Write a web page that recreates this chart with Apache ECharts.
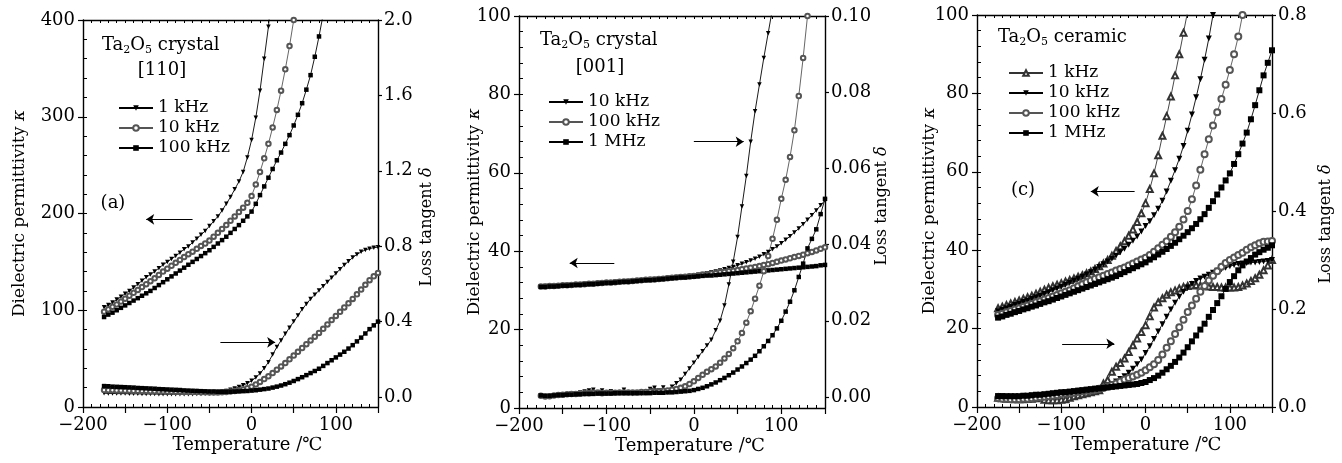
<!DOCTYPE html>
<html><head><meta charset="utf-8">
<script src="https://cdn.jsdelivr.net/npm/echarts@6/dist/echarts.min.js"></script>
<style>html,body{margin:0;padding:0;background:#fff}#c{width:1342px;height:463px}</style>
</head><body><div id="c"></div>
<script>
// Temperature sampling (°C)
const temps = [-175,-170,-165,-160,-155,-150,-145,-140,-135,-130,-125,-120,-115,-110,-105,-100,-95,-90,-85,-80,-75,-70,-65,-60,-55,-50,-45,-40,-35,-30,-25,-20,-15,-10,-5,0,5,10,15,20,25,30,35,40,45,50,55,60,65,70,75,80,85,90,95,100,105,110,115,120,125,130,135,140,145,150];

// Panel (a): Ta2O5 crystal [110]
const aK1 = [103,105.5,108,111,114,117,120,123.5,127,130.5,134,137,140,143.5,147,150,153,156,159.5,163,166,170,174,178,182,187,192,197,203,210,217,225,233,243,258,276,299,327,360,393,440];
const aK2 = [98.5,101,103.5,106,109,112,115,118,121,124,127,130,133,136.5,140,143,146,149,152,155,158,160.5,163.5,166.5,169,172,176,180,184,188,192.5,197,201.5,206,211,218,230,243,257,272,289,307,327,349,373,400,430];
const aK3 = [93,95.5,97.5,100,102.5,105,107.5,110,112.5,115,117.5,120,123,126,129,132,135,138,141,144,147,150,153,156,159,162,165.5,169,172.5,176,180,184,188,192.5,197,202,210,219,228,237,246,255,263,272,281,291,302,314,328,343,362,383,406];
const aD1 = [0.020,0.019,0.019,0.018,0.018,0.018,0.017,0.017,0.017,0.016,0.016,0.016,0.016,0.015,0.015,0.015,0.015,0.015,0.015,0.015,0.015,0.015,0.016,0.016,0.017,0.018,0.020,0.023,0.027,0.032,0.038,0.045,0.053,0.062,0.073,0.086,0.103,0.125,0.152,0.185,0.225,0.265,0.300,0.335,0.368,0.400,0.432,0.465,0.493,0.520,0.543,0.565,0.588,0.610,0.633,0.655,0.678,0.700,0.720,0.740,0.756,0.770,0.780,0.787,0.792,0.795];
const aD2 = [0.037,0.036,0.036,0.035,0.035,0.034,0.034,0.033,0.033,0.032,0.032,0.031,0.031,0.030,0.030,0.029,0.029,0.028,0.028,0.027,0.027,0.026,0.026,0.025,0.025,0.024,0.024,0.024,0.025,0.027,0.029,0.032,0.036,0.040,0.047,0.055,0.067,0.080,0.095,0.110,0.127,0.145,0.162,0.180,0.200,0.220,0.240,0.260,0.280,0.300,0.320,0.340,0.362,0.385,0.408,0.430,0.452,0.475,0.497,0.520,0.545,0.570,0.595,0.620,0.640,0.658];
const aD3 = [0.058,0.057,0.055,0.054,0.053,0.052,0.051,0.050,0.048,0.047,0.046,0.045,0.044,0.042,0.041,0.040,0.039,0.038,0.037,0.035,0.034,0.033,0.032,0.031,0.030,0.029,0.029,0.028,0.028,0.028,0.028,0.029,0.030,0.031,0.032,0.034,0.036,0.039,0.042,0.045,0.050,0.055,0.061,0.068,0.076,0.085,0.095,0.105,0.116,0.127,0.138,0.150,0.165,0.180,0.195,0.210,0.225,0.240,0.257,0.275,0.295,0.315,0.337,0.360,0.380,0.400];

// Panel (b): Ta2O5 crystal [001]
const bK1 = [31.0,31.1,31.1,31.2,31.2,31.3,31.4,31.4,31.5,31.6,31.7,31.7,31.8,31.9,31.9,32.0,32.1,32.2,32.2,32.3,32.4,32.5,32.6,32.6,32.7,32.8,32.9,33.0,33.1,33.2,33.3,33.4,33.5,33.6,33.7,33.8,34.0,34.2,34.4,34.6,34.8,35.1,35.4,35.7,36.0,36.4,36.8,37.2,37.6,38.1,38.6,39.2,39.8,40.5,41.2,42.0,42.9,43.8,44.8,45.8,46.9,48.0,49.2,50.4,51.7,53.0];
const bK2 = [31.0,31.0,31.1,31.1,31.2,31.3,31.3,31.4,31.5,31.5,31.6,31.7,31.7,31.8,31.9,32.0,32.0,32.1,32.2,32.3,32.3,32.4,32.5,32.6,32.7,32.8,32.8,32.9,33.0,33.1,33.2,33.3,33.4,33.5,33.6,33.7,33.8,34.0,34.1,34.3,34.4,34.6,34.7,34.9,35.0,35.2,35.4,35.6,35.8,36.0,36.2,36.5,36.7,37.0,37.3,37.6,37.9,38.2,38.5,38.8,39.1,39.5,39.8,40.2,40.6,41.0];
const bK3 = [30.9,30.9,31.0,31.0,31.1,31.2,31.2,31.3,31.4,31.4,31.5,31.6,31.6,31.7,31.8,31.9,31.9,32.0,32.1,32.2,32.2,32.3,32.4,32.5,32.6,32.6,32.7,32.8,32.9,33.0,33.1,33.2,33.3,33.3,33.4,33.5,33.6,33.7,33.8,33.8,33.9,34.0,34.1,34.2,34.3,34.4,34.5,34.6,34.7,34.8,34.9,35.0,35.1,35.2,35.3,35.4,35.5,35.6,35.7,35.8,35.9,36.0,36.1,36.2,36.4,36.5];
const bD1 = [0.0003,0.0001,0.0002,0.0004,0.0005,0.0006,0.0007,0.0009,0.0010,0.0012,0.0014,0.0017,0.0019,0.0013,0.0017,0.0011,0.0015,0.0010,0.0012,0.0019,0.0010,0.0008,0.0011,0.0009,0.0013,0.0021,0.0024,0.0017,0.0025,0.0012,0.0027,0.0036,0.0045,0.0060,0.0075,0.0090,0.0105,0.0120,0.0135,0.0150,0.0175,0.0200,0.0240,0.0295,0.0355,0.0420,0.0500,0.0580,0.0670,0.0750,0.0820,0.0890,0.0955,0.1020];
const bD2 = [0.0003,0.0001,0.0002,0.0004,0.0005,0.0006,0.0007,0.0008,0.0008,0.0009,0.0010,0.0010,0.0011,0.0011,0.0010,0.0011,0.0011,0.0011,0.0012,0.0012,0.0012,0.0012,0.0012,0.0013,0.0013,0.0014,0.0014,0.0015,0.0016,0.0017,0.0019,0.0021,0.0024,0.0028,0.0034,0.0041,0.0050,0.0058,0.0066,0.0073,0.0080,0.0090,0.0101,0.0113,0.0128,0.0146,0.0168,0.0195,0.0225,0.0258,0.0292,0.0330,0.0370,0.0415,0.0465,0.0520,0.0570,0.0630,0.0700,0.0790,0.0890,0.1000,0.1110];
const bD3 = [0.0004,0.0003,0.0003,0.0004,0.0005,0.0005,0.0006,0.0006,0.0007,0.0007,0.0008,0.0008,0.0008,0.0009,0.0009,0.0009,0.0009,0.0010,0.0010,0.0010,0.0010,0.0010,0.0010,0.0010,0.0010,0.0010,0.0011,0.0011,0.0011,0.0012,0.0012,0.0013,0.0014,0.0015,0.0016,0.0018,0.0021,0.0024,0.0028,0.0033,0.0038,0.0044,0.0050,0.0057,0.0064,0.0072,0.0080,0.0089,0.0098,0.0108,0.0120,0.0133,0.0147,0.0162,0.0180,0.0200,0.0224,0.0250,0.0280,0.0315,0.0350,0.0390,0.0415,0.0440,0.0480,0.0520];

// Panel (c): Ta2O5 ceramic
const cK1 = [25.2,25.6,26.0,26.4,26.8,27.2,27.6,28.0,28.4,28.9,29.4,29.9,30.4,30.8,31.2,31.6,32.0,32.4,32.8,33.2,33.6,34.1,34.6,35.2,35.9,36.6,37.5,38.6,39.8,41.0,42.3,43.7,45.3,47.2,49.4,52.0,55.6,59.6,64.2,69.2,74.2,79.2,84.6,90.0,95.5,101.0];
const cK2 = [24.4,24.8,25.2,25.6,26.0,26.4,26.8,27.2,27.6,28.0,28.4,28.8,29.3,29.8,30.2,30.7,31.2,31.7,32.2,32.7,33.2,33.8,34.4,35.0,35.7,36.4,37.1,37.8,38.6,39.5,40.4,41.4,42.4,43.5,44.8,46.2,47.4,48.9,50.6,52.6,55.0,57.7,60.4,63.3,66.6,70.5,74.6,79.0,83.6,88.6,94.0,100.0,106.5];
const cK3 = [23.5,23.8,24.2,24.5,24.9,25.2,25.6,25.9,26.3,26.7,27.0,27.4,27.8,28.2,28.6,29.0,29.4,29.8,30.3,30.8,31.3,31.8,32.3,32.7,33.1,33.5,33.9,34.3,34.8,35.2,35.6,36.1,36.6,37.1,37.6,38.1,38.8,39.6,40.5,41.4,42.3,43.4,44.6,46.0,47.8,50.0,53.0,56.5,60.5,64.5,68.3,71.8,75.2,78.6,82.2,86.0,90.0,94.5,100.0,106.0];
const cK4 = [22.8,23.1,23.5,23.8,24.2,24.5,24.9,25.2,25.6,25.9,26.3,26.7,27.0,27.4,27.8,28.2,28.6,29.0,29.4,29.8,30.2,30.6,31.0,31.4,31.8,32.2,32.6,33.0,33.4,33.9,34.4,34.9,35.4,35.9,36.4,36.9,37.6,38.2,38.9,39.6,40.3,41.1,41.9,42.8,43.7,44.6,45.6,46.7,47.9,49.2,50.8,52.5,54.2,56.0,57.8,59.6,62.0,64.5,67.2,70.0,73.4,77.0,80.8,84.6,87.8,91.0];
const cD1 = [0.019,0.018,0.017,0.017,0.016,0.016,0.016,0.017,0.017,0.018,0.019,0.015,0.014,0.014,0.014,0.015,0.016,0.019,0.022,0.024,0.026,0.028,0.030,0.032,0.034,0.048,0.055,0.072,0.082,0.090,0.099,0.112,0.126,0.140,0.153,0.167,0.185,0.203,0.214,0.222,0.229,0.234,0.238,0.242,0.245,0.247,0.248,0.249,0.248,0.247,0.246,0.245,0.245,0.244,0.244,0.244,0.244,0.245,0.248,0.252,0.257,0.263,0.270,0.279,0.289,0.300];
const cD2 = [0.022,0.022,0.021,0.021,0.021,0.021,0.022,0.022,0.023,0.023,0.024,0.025,0.026,0.027,0.028,0.029,0.030,0.031,0.032,0.033,0.034,0.035,0.036,0.037,0.038,0.040,0.043,0.047,0.052,0.057,0.063,0.070,0.078,0.087,0.097,0.110,0.124,0.139,0.154,0.169,0.184,0.199,0.213,0.225,0.235,0.244,0.251,0.257,0.262,0.266,0.270,0.274,0.278,0.281,0.284,0.287,0.290,0.292,0.293,0.294,0.295,0.295,0.296,0.297,0.298,0.300];
const cD3 = [0.018,0.017,0.017,0.016,0.016,0.016,0.017,0.017,0.018,0.019,0.020,0.021,0.022,0.023,0.024,0.026,0.027,0.028,0.029,0.031,0.032,0.033,0.034,0.035,0.037,0.039,0.042,0.045,0.048,0.052,0.056,0.059,0.062,0.066,0.070,0.075,0.081,0.087,0.096,0.107,0.121,0.134,0.149,0.163,0.178,0.194,0.207,0.221,0.235,0.247,0.258,0.268,0.277,0.286,0.294,0.300,0.305,0.310,0.315,0.321,0.326,0.330,0.334,0.337,0.338,0.339];
const cD4 = [0.022,0.022,0.022,0.022,0.022,0.022,0.023,0.023,0.024,0.025,0.025,0.026,0.027,0.028,0.029,0.030,0.030,0.031,0.032,0.033,0.034,0.035,0.036,0.037,0.038,0.039,0.040,0.041,0.042,0.043,0.044,0.045,0.046,0.047,0.049,0.051,0.055,0.059,0.064,0.070,0.077,0.084,0.092,0.101,0.111,0.122,0.134,0.146,0.158,0.170,0.184,0.198,0.212,0.226,0.241,0.255,0.267,0.279,0.289,0.297,0.304,0.311,0.316,0.321,0.325,0.330];

// Tick labels
const xLabels = [-200,-100,0,100];
const aRightTicks = [0,0.4,0.8,1.2,1.6,2.0];
const bRightTicks = [0,0.02,0.04,0.06,0.08,0.10];
const cRightTicks = [0,0.2,0.4,0.6,0.8];

const FONT = '"DejaVu Serif","Liberation Serif",serif';
const BLACK = '#000';
const chart = echarts.init(document.getElementById('c'), null, {renderer:'canvas'});

const grids = [
  {left:83, top:20, width:295, height:387},
  {left:519, top:16, width:306, height:392},
  {left:977, top:15, width:295, height:392}
];
const panels = [
  {kMax:400,kInt:100,kMinor:20,dMin:-0.053,dMax:2.0,dTicks:aRightTicks,dDig:1,lGap:55,rGap:41,rPad:[0,27,0,0],xPad:[0,0,0,34]},
  {kMax:100,kInt:20,kMinor:4,dMin:-0.0029,dMax:0.10,dTicks:bRightTicks,dDig:2,lGap:36,rGap:49,rPad:[0,0,0,12],xPad:[0,0,0,36]},
  {kMax:100,kInt:20,kMinor:4,dMin:0,dMax:0.8,dTicks:cRightTicks,dDig:1,lGap:39,rGap:46,rPad:[0,26,0,0],xPad:[0,0,0,44]}
];
const txt = {fontFamily:FONT,fontSize:17,color:BLACK};
const rtxt = {fontFamily:FONT,fontSize:16,color:BLACK};
const tick = {fontFamily:FONT,fontSize:18,color:BLACK};
const xAxes = [], yAxes = [];
panels.forEach((p,g)=>{
  xAxes.push({gridIndex:g,type:'value',position:'bottom',min:-200,max:150,interval:50,
    axisLine:{onZero:false,lineStyle:{color:BLACK,width:1.4}},
    axisTick:{inside:false,length:6,lineStyle:{color:BLACK,width:1.2}},
    axisLabel:Object.assign({margin:9,formatter:v=>xLabels.indexOf(v)>=0?String(v).replace('-','\u2212'):''},tick),
    splitLine:{show:false},
    name:'Temperature /\u2103',nameLocation:'middle',nameGap:29,nameMoveOverlap:false,
    nameTextStyle:Object.assign({padding:p.xPad},tick)});
  xAxes.push({gridIndex:g,type:'value',position:'bottom',min:-200,max:150,interval:10,
    axisLine:{show:false,onZero:false},axisTick:{inside:true,length:3,lineStyle:{color:BLACK,width:1}},
    axisLabel:{show:false},splitLine:{show:false}});
  xAxes.push({gridIndex:g,type:'value',position:'top',min:-200,max:150,interval:10,
    axisLine:{onZero:false,lineStyle:{color:BLACK,width:1.4}},axisTick:{inside:true,length:3,lineStyle:{color:BLACK,width:1}},
    axisLabel:{show:false},splitLine:{show:false}});
  yAxes.push({gridIndex:g,type:'value',position:'left',min:0,max:p.kMax,interval:p.kInt,
    axisLine:{show:true,onZero:false,lineStyle:{color:BLACK,width:1.4}},
    axisTick:{inside:false,length:5,lineStyle:{color:BLACK,width:1.2}},
    axisLabel:Object.assign({margin:8},tick),splitLine:{show:false},
    name:'{n|Dielectric permittivity }{k|\u03ba}',nameLocation:'middle',nameRotate:90,nameGap:p.lGap,nameMoveOverlap:false,
    nameTextStyle:{rich:{n:txt,k:Object.assign({fontStyle:'italic'},txt)}}});
  yAxes.push({gridIndex:g,type:'value',position:'left',min:0,max:p.kMax,interval:p.kMinor,
    axisLine:{show:false,onZero:false},axisTick:{inside:true,length:4,lineStyle:{color:BLACK,width:1}},
    axisLabel:{show:false},splitLine:{show:false}});
  yAxes.push({gridIndex:g,type:'value',position:'right',min:p.dMin,max:p.dMax,
    axisLine:{show:true,onZero:false,lineStyle:{color:BLACK,width:1.4}},
    axisTick:{inside:false,length:4,customValues:p.dTicks,lineStyle:{color:BLACK,width:1.2}},
    axisLabel:Object.assign({margin:6,customValues:p.dTicks,formatter:v=>v.toFixed(p.dDig)},tick),
    splitLine:{show:false},
    name:'{n|Loss tangent }{k|\u03b4}',nameLocation:'middle',nameRotate:90,nameGap:p.rGap,nameMoveOverlap:false,
    nameTextStyle:{padding:p.rPad,rich:{n:rtxt,k:Object.assign({fontStyle:'italic'},rtxt)}}});
});

const SYM = {
  dtri:{symbol:'triangle',symbolRotate:180,color:'#000'},
  utri:{symbol:'emptyTriangle',symbolRotate:0,color:'#333'},
  circ:{symbol:'emptyCircle',symbolRotate:0,color:'#555'},
  sq:{symbol:'rect',symbolRotate:0,color:'#000'}
};
const symSize = [4.5,4.5,6];
function mk(name,g,right,vals,sym,extra){
  const s = SYM[sym];
  return Object.assign({type:'line',name,xAxisIndex:3*g,yAxisIndex:3*g+(right?2:0),
    data:vals.map((v,i)=>[temps[i],v]),symbol:s.symbol,symbolRotate:s.symbolRotate,symbolSize:symSize[g],
    lineStyle:{width:0.9,color:s.color},itemStyle:{color:s.color,borderWidth:1},
    emphasis:{disabled:true},animation:false,clip:true},extra||{});
}
function arrow(x1,y1,x2,y2){
  return {markLine:{silent:true,animation:false,symbol:['none','arrow'],symbolSize:8,
    label:{show:false},lineStyle:{color:BLACK,width:1,type:'solid'},emphasis:{disabled:true},
    data:[[{coord:[x1,y1]},{coord:[x2,y2]}]]}};
}
const series = [
  mk('a1|1 kHz',0,false,aK1,'dtri',arrow(-70,194,-125,194)),
  mk('a2|10 kHz',0,false,aK2,'circ'),
  mk('a3|100 kHz',0,false,aK3,'sq'),
  mk('a1d|1 kHz',0,true,aD1,'dtri',arrow(-37,0.29,28,0.29)),
  mk('a2d|10 kHz',0,true,aD2,'circ'),
  mk('a3d|100 kHz',0,true,aD3,'sq'),
  mk('b1|10 kHz',1,false,bK1,'dtri',arrow(-91,37,-142,37)),
  mk('b2|100 kHz',1,false,bK2,'circ'),
  mk('b3|1 MHz',1,false,bK3,'sq'),
  mk('b1d|10 kHz',1,true,bD1,'dtri',arrow(0,0.067,57,0.067)),
  mk('b2d|100 kHz',1,true,bD2,'circ'),
  mk('b3d|1 MHz',1,true,bD3,'sq'),
  mk('c1|1 kHz',2,false,cK1,'utri',arrow(-13,55,-65,55)),
  mk('c2|10 kHz',2,false,cK2,'dtri'),
  mk('c3|100 kHz',2,false,cK3,'circ'),
  mk('c4|1 MHz',2,false,cK4,'sq'),
  mk('c1d|1 kHz',2,true,cD1,'utri',arrow(-99,0.129,-37,0.129)),
  mk('c2d|10 kHz',2,true,cD2,'dtri'),
  mk('c3d|100 kHz',2,true,cD3,'circ'),
  mk('c4d|1 MHz',2,true,cD4,'sq')
];
function leg(names,left,top){
  return {data:names,left,top,orient:'vertical',itemGap:0,itemWidth:34,itemHeight:7,selectedMode:false,
    formatter:n=>n.split('|')[1],textStyle:Object.assign({lineHeight:20},txt)};
}
const rich = {a:{fontFamily:FONT,fontSize:18,lineHeight:22,fill:BLACK},
              s:{fontFamily:FONT,fontSize:11,lineHeight:12,verticalAlign:'bottom',fill:BLACK}};
function ttl(x,y,rest){
  return {type:'text',x,y,silent:true,z:10,style:{text:'{a|Ta}{s|2}{a|O}{s|5}{a|'+rest+'}',fill:BLACK,
    align:'left',verticalAlign:'middle',rich}};
}
function plain(x,y,t){
  return {type:'text',x,y,silent:true,z:10,style:{text:t,fill:BLACK,font:'18px '+FONT,align:'center',verticalAlign:'middle'}};
}
chart.setOption({
  animation:false,
  backgroundColor:'#fff',
  grid:grids,
  xAxis:xAxes,
  yAxis:yAxes,
  legend:[
    leg(['a1|1 kHz','a2|10 kHz','a3|100 kHz'],113,93),
    leg(['b1|10 kHz','b2|100 kHz','b3|1 MHz'],543,87),
    leg(['c1|1 kHz','c2|10 kHz','c3|100 kHz','c4|1 MHz'],1003,58)
  ],
  graphic:[
    ttl(102,45,' crystal'), plain(162,70,'[110]'), plain(113,203,'(a)'),
    ttl(540,40,' crystal'), plain(600,67,'[001]'),
    ttl(998,37,' ceramic'), plain(1023,190,'(c)')
  ],
  series
});
</script></body></html>
